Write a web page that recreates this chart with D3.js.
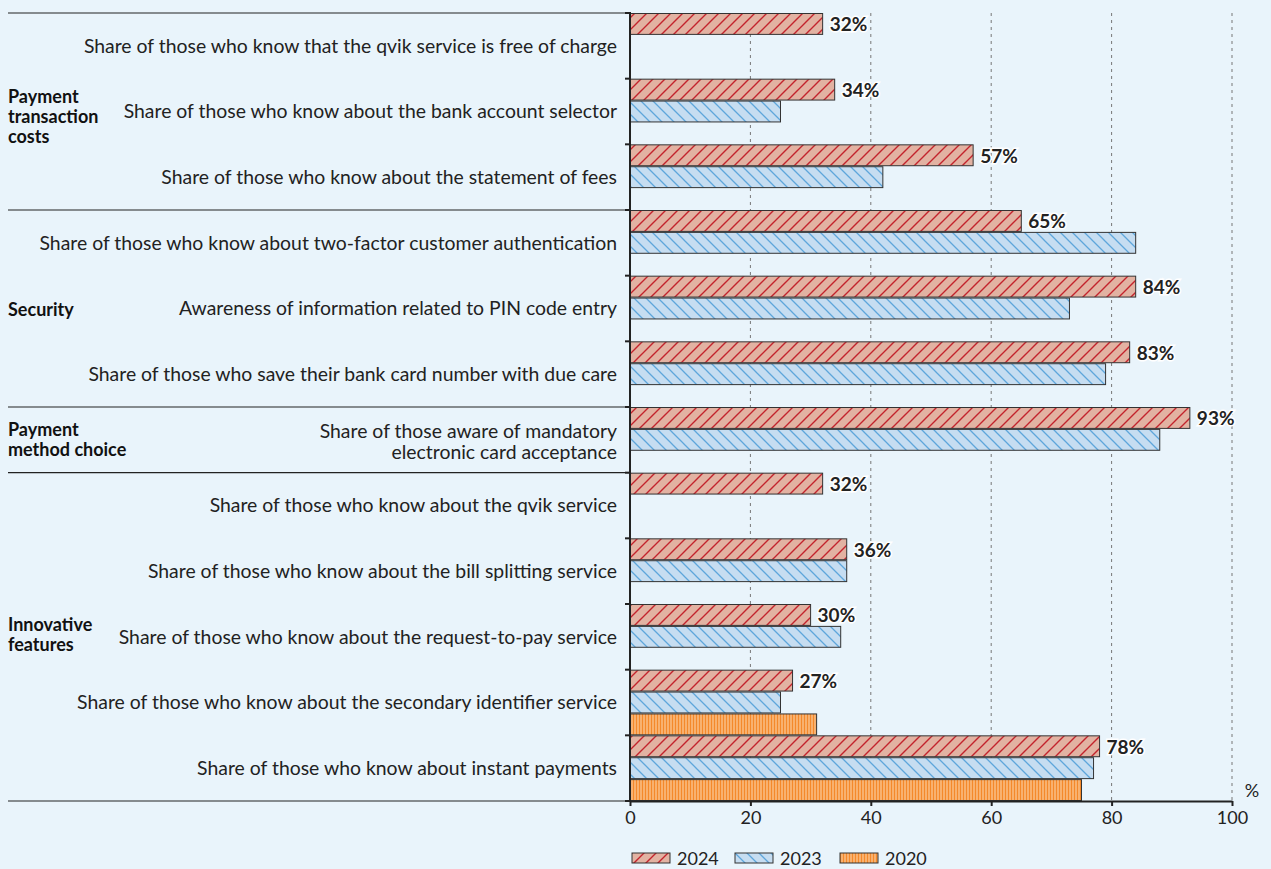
<!DOCTYPE html>
<html><head><meta charset="utf-8">
<script src="https://cdn.jsdelivr.net/npm/d3@7"></script>
<style>
body{margin:0;background:#e9f4fb;}
svg{display:block;font-family:Lato,sans-serif;}
</style></head><body>
<svg id="c" width="1271" height="869"></svg>
<script>
const categories = [
 ["Share of those who know that the qvik service is free of charge"],
 ["Share of those who know about the bank account selector"],
 ["Share of those who know about the statement of fees"],
 ["Share of those who know about two-factor customer authentication"],
 ["Awareness of information related to PIN code entry"],
 ["Share of those who save their bank card number with due care"],
 ["Share of those aware of mandatory","electronic card acceptance"],
 ["Share of those who know about the qvik service"],
 ["Share of those who know about the bill splitting service"],
 ["Share of those who know about the request-to-pay service"],
 ["Share of those who know about the secondary identifier service"],
 ["Share of those who know about instant payments"]
];
const series = ["2024","2023","2020"];
const values2024 = [32,34,57,65,84,83,93,32,36,30,27,78];
const values2023 = [null,25,42,84,73,79,88,null,36,35,25,77];
const values2020 = [null,null,null,null,null,null,null,null,null,null,31,75];
const groups = [
 {lines:["Payment","transaction","costs"], start:0, end:2},
 {lines:["Security"], start:3, end:5},
 {lines:["Payment","method choice"], start:6, end:6},
 {lines:["Innovative","features"], start:7, end:11}
];
const xTicks = [0,20,40,60,80,100];

const svg = d3.select("#c");
const x = d3.scaleLinear().domain([0,100]).range([630,1232]);
const y = d3.scaleBand().domain(d3.range(categories.length)).range([13,801]).padding(0);
const ys = d3.scaleBand().domain(series).range([0,y.bandwidth()]).padding(0);

// patterns
const defs = svg.append("defs");
function pat(id, bg, draw, w, h){
  const p = defs.append("pattern").attr("id",id).attr("patternUnits","userSpaceOnUse").attr("width",w).attr("height",h);
  p.append("rect").attr("width",w).attr("height",h).attr("fill",bg);
  draw(p);
}
pat("p2024","#e2b2a2",p=>{
  p.append("path").attr("d","M0,12 L12,0 M-3,3 L3,-3 M9,15 L15,9").attr("stroke","#c3242d").attr("stroke-width",1.4);
},12,12);
pat("p2023","#c6ddf1",p=>{
  p.append("path").attr("d","M0,0 L12,12 M-3,9 L3,15 M9,-3 L15,3").attr("stroke","#5ea6db").attr("stroke-width",1.3);
},12,12);
pat("p2020","#f4892b",p=>{
  p.append("rect").attr("x",1.5).attr("y",0).attr("width",1).attr("height",4).attr("fill","#fdd9b3");
},3,4);
const fills = {"2024":"url(#p2024)","2023":"url(#p2023)","2020":"url(#p2020)"};

// grid
svg.append("g").selectAll("line").data(xTicks.slice(1)).join("line")
  .attr("x1",d=>x(d)).attr("x2",d=>x(d)).attr("y1",13).attr("y2",801)
  .attr("stroke","#777").attr("stroke-width",1).attr("stroke-dasharray","3,4");

// separators
const sepY = [13, y(3), y(6), y(7)];
svg.append("g").selectAll("line").data(sepY).join("line")
  .attr("x1",8).attr("x2",630).attr("y1",d=>d).attr("y2",d=>d)
  .attr("stroke","#222").attr("stroke-width",1.2);
svg.append("line").attr("x1",8).attr("x2",630).attr("y1",801).attr("y2",801).attr("stroke","#222").attr("stroke-width",1.2);

// bars
const data = [];
categories.forEach((c,i)=>{
  [values2024,values2023,values2020].forEach((arr,k)=>{
    if(arr[i]!=null) data.push({i, s:series[k], v:arr[i]});
  });
});
svg.append("g").selectAll("rect").data(data).join("rect")
  .attr("x",x(0)).attr("y",d=>y(d.i)+ys(d.s)+0.5)
  .attr("width",d=>x(d.v)-x(0)).attr("height",ys.bandwidth()-1)
  .attr("fill",d=>fills[d.s]).attr("stroke","#333").attr("stroke-width",1);

// value labels for 2024
svg.append("g").selectAll("text").data(data.filter(d=>d.s==="2024")).join("text")
  .attr("x",d=>x(d.v)+7).attr("y",d=>y(d.i)+ys("2024")+ys.bandwidth()/2)
  .attr("dominant-baseline","central")
  .attr("font-size",19).attr("font-weight","bold").attr("fill","#222")
  .attr("stroke","#fff").attr("stroke-width",3).attr("paint-order","stroke")
  .text(d=>d.v+"%");

// category labels
const cl = svg.append("g").selectAll("text").data(categories).join("text")
  .attr("text-anchor","end").attr("font-size",19.4).attr("fill","#222")
  .attr("y",(d,i)=>y(i)+y.bandwidth()/2 - (d.length-1)*10.5 + (d.length>1?2:0));
cl.selectAll("tspan").data(d=>d).join("tspan")
  .attr("x",617).attr("dy",(d,j)=>j===0?"0.35em":21).text(d=>d);

// group labels
const gl = svg.append("g").selectAll("text").data(groups).join("text")
  .attr("font-size",18).attr("font-weight","bold").attr("fill","#111")
  .attr("y",(g,i)=>(y(g.start)+y(g.end)+y.bandwidth())/2 - (g.lines.length-1)*10 + [5,1,0,-2][i]);
gl.selectAll("tspan").data(g=>g.lines).join("tspan")
  .attr("x",8).attr("dy",(d,j)=>j===0?"0.35em":20).text(d=>d);

// y axis
svg.append("line").attr("x1",630).attr("x2",630).attr("y1",12).attr("y2",801).attr("stroke","#222").attr("stroke-width",2);
svg.append("g").selectAll("line").data(d3.range(categories.length+1)).join("line")
  .attr("x1",625).attr("x2",630).attr("y1",i=>i<categories.length?y(i):801).attr("y2",i=>i<categories.length?y(i):801)
  .attr("stroke","#222").attr("stroke-width",2);

// x axis
const xa = svg.append("g").attr("transform","translate(0,801)")
  .call(d3.axisBottom(x).tickValues(xTicks).tickSize(5).tickSizeOuter(0).tickFormat(d3.format("d")));
xa.select(".domain").attr("stroke","#222").attr("stroke-width",2);
xa.selectAll(".tick line").attr("stroke","#222").attr("stroke-width",2);
xa.selectAll(".tick text").attr("font-size",18).attr("fill","#222").attr("font-family","Lato, sans-serif").attr("dy","0.85em");
svg.append("text").attr("x",1252).attr("y",790).attr("text-anchor","middle").attr("dominant-baseline","central")
  .attr("font-size",18).attr("fill","#222").text("%");

// legend
const leg = svg.append("g").selectAll("g").data(series).join("g")
  .attr("transform",(d,i)=>`translate(${[632,735,840][i]},853)`);
leg.append("rect").attr("width",38).attr("height",10).attr("fill",d=>fills[d]).attr("stroke","#333").attr("stroke-width",1);
leg.append("text").attr("x",45).attr("y",5).attr("dominant-baseline","central").attr("font-size",18).attr("fill","#222").text(d=>d);
</script>
</body></html>
